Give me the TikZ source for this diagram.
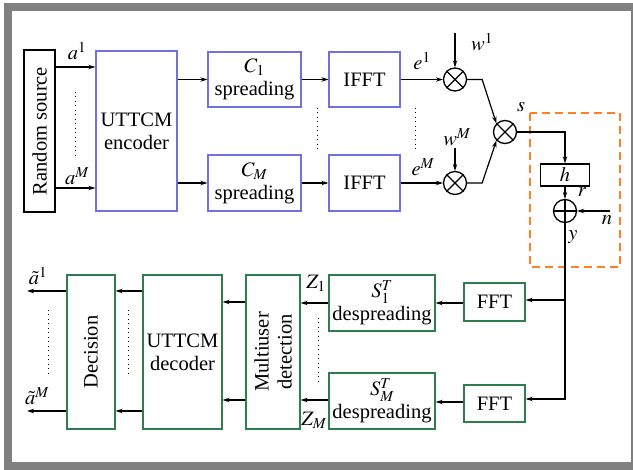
\documentclass[tikz,border=0pt]{standalone}
\usepackage{mathptmx}
\usepackage{fontspec}
\setmainfont{Liberation Serif}
\newfontfamily\tmfont{Liberation Serif}
\usetikzlibrary{arrows.meta}
\definecolor{blueline}{RGB}{112,112,224}
\definecolor{greenline}{RGB}{46,125,79}
\definecolor{orangeline}{RGB}{255,127,39}
\definecolor{framegray}{RGB}{128,128,128}
\begin{document}
\begin{tikzpicture}[x=1pt,y=-1pt,
  every node/.style={font=\tmfont\fontsize{20.5}{23}\selectfont},
  >={Stealth[length=7pt,width=4.5pt]},
  line width=1.2pt,
  bbox/.style={draw=blueline,line width=1.3pt,align=center,inner sep=0pt},
  gbox/.style={draw=greenline,line width=1.3pt,align=center,inner sep=0pt},
  kbox/.style={draw,line width=1.3pt,inner sep=0pt},
  mix/.style={draw,circle,line width=1.3pt,minimum size=23pt,inner sep=0pt},
  dots/.style={line width=1pt,dash pattern=on 1pt off 3.5pt}]
      \useasboundingbox (0,0) rectangle (633,470);
      % frame
      \fill[framegray] (4,3) rectangle (633,11);
      \fill[framegray] (4,3) rectangle (12,470);
      \fill[framegray] (4,462) rectangle (633,470);
      \fill[framegray] (631,3) rectangle (633,470);
      % transmitter
      \node[kbox,minimum width=31pt,minimum height=162pt] (src) at (39.5,131) {};
      \node[rotate=90] (srctxt) at (src) {Random source};
      \node[bbox,minimum width=81pt,minimum height=160pt] (enc) at (136.5,131) {UTTCM\\encoder};
      \node[bbox,minimum width=93pt,minimum height=55pt] (spr1) at (254.5,79.5) {$C_1$\\spreading};
      \node[bbox,minimum width=93pt,minimum height=56pt] (sprM) at (254.5,183) {$C_M$\\spreading};
      \node[bbox,minimum width=71pt,minimum height=55pt] (ifft1) at (364.5,79.5) {IFFT};
      \node[bbox,minimum width=71pt,minimum height=56pt] (ifftM) at (364.5,183) {IFFT};
      \node[mix] (m1) at (455,79.5) {};
      \node[mix] (mM) at (455,183) {};
      \node[mix] (ms) at (505,132) {};
      \draw (m1.north west)--(m1.south east) (m1.north east)--(m1.south west);
      \draw (mM.north west)--(mM.south east) (mM.north east)--(mM.south west);
      \draw (ms.north west)--(ms.south east) (ms.north east)--(ms.south west);
      \coordinate (w1) at (455,33);
      \coordinate (wM) at (455,148);
      \draw[->] (src.east |- 0,67)--(enc.west |- 0,67);
      \draw[->] (src.east |- 0,188)--(enc.west |- 0,188);
      \draw[->] (enc.east |- spr1)--(spr1.west);
      \draw[->] (enc.east |- sprM)--(sprM.west);
      \draw[->] (spr1)--(ifft1);
      \draw[->] (sprM)--(ifftM);
      \draw[->] (ifft1)--(m1);
      \draw[->] (ifftM)--(mM);
      \draw[->] (w1)--(m1.north);
      \draw[->] (wM)--(mM.north);
      \draw[->] (m1.east)--++(15,0)--(ms.north west);
      \draw[->] (mM.east)--++(15,0)--(ms.south west);
      \node (la1) at (77,51) {$a^1$};
      \node (laM) at (77,176) {$a^M$};
      \node (le1) at (422,61) {$e^1$};
      \node (leM) at (423,167) {$e^M$};
      \node (lw1) at (482,42) {$w^1$};
      \node (lwM) at (457,137) {$w^M$};
      \node (ls) at (521,107) {$s$};
      \draw[dots] (75,92)--(75,157);
      \draw[dots] (317,108)--(317,150);
      \draw[dots] (415,108)--(415,150);
      % channel
      \draw[orangeline,line width=1.5pt,dash pattern=on 8pt off 5pt] (530,113) rectangle (620,267);
      \node[kbox,minimum width=49pt,minimum height=22pt] (h) at (565,175) {$h$};
      \node[mix] (add) at (565,211) {};
      \draw (add.north)--(add.south) (add.west)--(add.east);
      \coordinate (nin) at (610,211);
      \draw[->] (ms.east) -| (h.north);
      \draw[->] (h.south)--(add.north);
      \draw[->] (nin)--(add.east);
      \node (lr) at (582,192) {$r$};
      \node (ln) at (607,220) {$n$};
      \node (ly) at (573,237) {$y$};
      % receiver
      \node[gbox,minimum width=61pt,minimum height=38pt] (ffta) at (494.5,302) {FFT};
      \node[gbox,minimum width=61pt,minimum height=37pt] (fftb) at (494.5,403.5) {FFT};
      \node[gbox,minimum width=106pt,minimum height=56pt] (des1) at (382,303) {$S_1^T$\\despreading};
      \node[gbox,minimum width=106pt,minimum height=56pt] (desM) at (382,401) {$S_M^T$\\despreading};
      \node[gbox,minimum width=54pt,minimum height=154pt] (mud) at (273,352) {};
      \node[rotate=90,align=center] (mudtxt) at (mud) {Multiuser\\detection};
      \node[gbox,minimum width=79pt,minimum height=154pt] (dec) at (182.5,352) {UTTCM\\decoder};
      \node[gbox,minimum width=48pt,minimum height=154pt] (dcs) at (91,352) {};
      \node[rotate=90] (dcstxt) at (dcs) {Decision};
      \coordinate (out1) at (27,291);
      \coordinate (outM) at (27,411);
      \draw[->] (add.south) |- (fftb.east |- 0,399);
      \draw[->] (add.south |- 0,300)--(ffta.east |- 0,300);
      \draw[->] (ffta.west |- des1)--(des1.east);
      \draw[->] (fftb.west |- 0,402)--(desM.east |- 0,402);
      \draw[->] (des1.west)--(mud.east |- des1);
      \draw[->] (desM.west |- 0,400)--(mud.east |- 0,400);
      \draw[->] (mud.west |- 0,302)--(dec.east |- 0,302);
      \draw[->] (mud.west |- 0,400)--(dec.east |- 0,400);
      \draw[->] (dec.west |- out1)--(dcs.east |- out1);
      \draw[->] (dec.west |- outM)--(dcs.east |- outM);
      \draw[->] (dcs.west |- out1)--(out1);
      \draw[->] (dcs.west |- outM)--(outM);
      \node (lz1) at (316,283) {$Z_1$};
      \node (lzM) at (314,420) {$Z_M$};
      \node (lo1) at (38,276) {$\tilde{a}^1$};
      \node (loM) at (37,396) {$\tilde{a}^M$};
      \draw[dots] (318,318)--(318,383);
      \draw[dots] (128,310)--(128,377);
      \draw[dots] (48,310)--(48,377);
\end{tikzpicture}
\end{document}
